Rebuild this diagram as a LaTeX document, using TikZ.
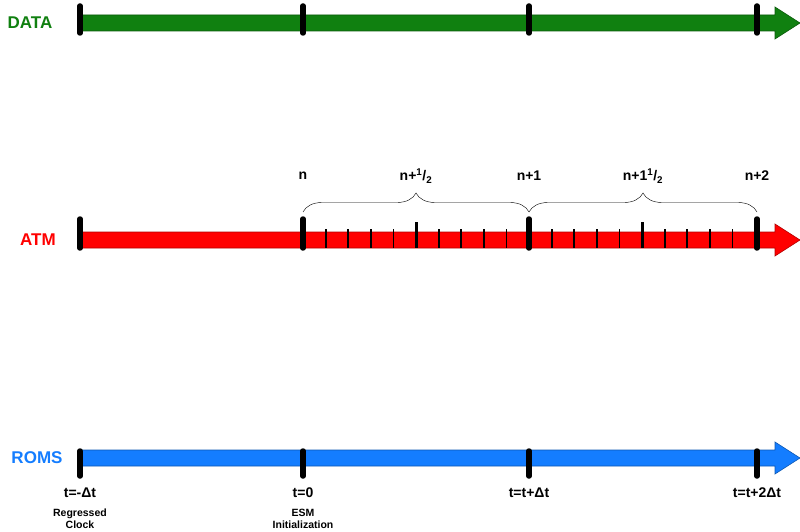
\documentclass[tikz,border=0pt]{standalone}
\usepackage{fontspec}
\setmainfont{Liberation Sans}
\usetikzlibrary{decorations.pathreplacing}
\definecolor{dgreen}{RGB}{16,128,16}
\definecolor{atmred}{RGB}{255,0,0}
\definecolor{romsblue}{RGB}{20,125,255}
\tikzset{
 lbl/.style={font=\bfseries\fontsize{17}{17}\selectfont},
 tlbl/.style={font=\bfseries\fontsize{14}{14}\selectfont},
 slbl/.style={font=\bfseries\fontsize{10.5}{12}\selectfont, align=center},
 major/.style={line width=5.5pt, line cap=round},
 minor/.style={line width=1.8pt},
 half/.style={line width=3pt},
}
\newcommand{\timeline}[3]{%
 \fill[#2, draw=#3, line width=0.6pt] (80,#1-8) -- (775,#1-8) -- (775,#1-16) -- (800,#1) -- (775,#1+16) -- (775,#1+8) -- (80,#1+8) -- cycle;}
\begin{document}
\begin{tikzpicture}[x=1pt,y=-1pt]
\useasboundingbox (0,0) rectangle (800,532);
\timeline{23}{dgreen}{dgreen!70!black}
\timeline{240}{atmred}{atmred!70!black}
\timeline{458}{romsblue}{romsblue!70!black}
\node[lbl, text=dgreen] (data) at (30,23) {DATA};
\node[lbl, text=atmred] (atm) at (38,240) {ATM};
\node[lbl, text=romsblue] (roms) at (37,458) {ROMS};
\foreach \x in {80,303,529,757}{
 \draw[major] (\x,6) -- (\x,33);
 \draw[major] (\x,219) -- (\x,248);
 \draw[major] (\x,451) -- (\x,476);
}
\foreach \a in {303,529}{
 \foreach \i in {1,...,9}{
  \pgfmathsetmacro{\xx}{\a+\i*22.6}
  \ifnum\i=5
   \draw[half] (\xx,222) -- (\xx,248);
  \else
   \draw[minor] (\xx,229) -- (\xx,248);
  \fi
 }
}
\coordinate (b0) at (303,212);
\coordinate (b1) at (529,212);
\coordinate (b2) at (757,212);
\draw[decorate, decoration={brace, amplitude=19pt}] (b0) -- (b1);
\draw[decorate, decoration={brace, amplitude=19pt}] (b1) -- (b2);
\node[tlbl] (n0) at (303,176) {n};
\node[tlbl] (nh) at (416,176) {n+\textsuperscript{1}/\textsubscript{2}};
\node[tlbl] (n1) at (529,176) {n+1};
\node[tlbl] (n1h) at (643,176) {n+1\textsuperscript{1}/\textsubscript{2}};
\node[tlbl] (n2) at (757,176) {n+2};
\node[tlbl] (t0) at (80,493) {t=-Δt};
\node[tlbl] (t1) at (303,493) {t=0};
\node[tlbl] (t2) at (529,493) {t=t+Δt};
\node[tlbl] (t3) at (757,493) {t=t+2Δt};
\node[slbl] (s0) at (80,519) {Regressed\\Clock};
\node[slbl] (s1) at (303,519) {ESM\\Initialization};
\end{tikzpicture}
\end{document}
